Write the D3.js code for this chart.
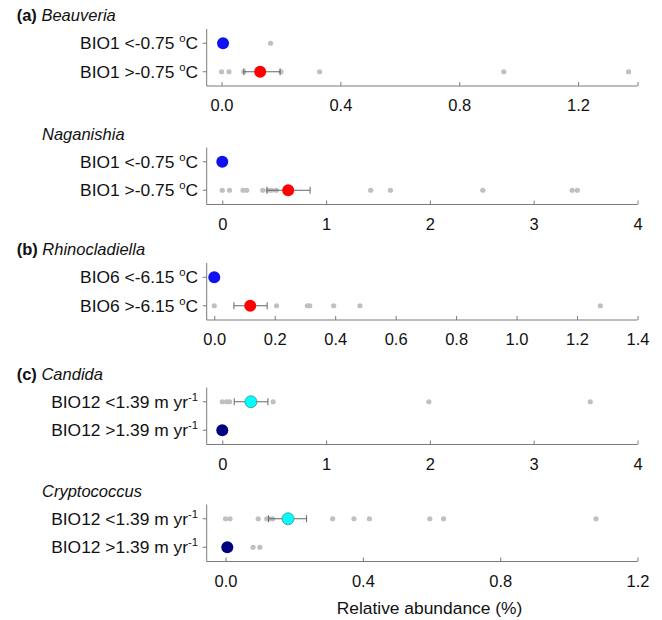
<!DOCTYPE html>
<html><head><meta charset="utf-8">
<script src="https://cdn.jsdelivr.net/npm/d3@7"></script>
<style>
html,body{margin:0;padding:0;background:#fff;}
svg text{font-family:"Liberation Sans",Arial,sans-serif;fill:#111;}
</style></head>
<body><svg id="chart" width="662" height="620"></svg>
<script>
// ---- data ----
const panelTags   = ["(a)", "", "(b)", "(c)", ""];
const panelGenera = ["Beauveria", "Naganishia", "Rhinocladiella", "Candida", "Cryptococcus"];
const rowLabelsMain = [
  ["BIO1 <-0.75 ", "BIO1 >-0.75 "],
  ["BIO1 <-0.75 ", "BIO1 >-0.75 "],
  ["BIO6 <-6.15 ", "BIO6 >-6.15 "],
  ["BIO12 <1.39 m yr", "BIO12 >1.39 m yr"],
  ["BIO12 <1.39 m yr", "BIO12 >1.39 m yr"]
];
const rowLabelsSup  = [["o","o"],["o","o"],["o","o"],["-1","-1"],["-1","-1"]];
const rowLabelsTail = [["C","C"],["C","C"],["C","C"],["",""],["",""]];
const xDomains = [[-0.05, 1.4], [-0.15, 4], [-0.025, 1.4], [-0.15, 4], [-0.055, 1.2]];
const xTicks = [
  [0, 0.4, 0.8, 1.2, 1.4],
  [0, 1, 2, 3, 4],
  [0, 0.2, 0.4, 0.6, 0.8, 1.0, 1.2, 1.4],
  [0, 1, 2, 3, 4],
  [0, 0.4, 0.8, 1.2]
];
const xTickLabels = [
  ["0.0", "0.4", "0.8", "1.2", ""],
  ["0", "1", "2", "3", "4"],
  ["0.0", "0.2", "0.4", "0.6", "0.8", "1.0", "1.2", "1.4"],
  ["0", "1", "2", "3", "4"],
  ["0.0", "0.4", "0.8", "1.2"]
];
// raw observations (grey dots), row 1 and row 2 of each panel
const rawRow1 = [
  [0, 0.165],
  [0],
  [0],
  [0, 0.04, 0.07, 0.49, 1.99, 3.545],
  [0, 0.013, 0.095, 0.12, 0.128, 0.137, 0.312, 0.374, 0.419, 0.595, 0.635, 1.079]
];
const rawRow2 = [
  [0, 0.025, 0.075, 0.2, 0.33, 0.95, 1.37],
  [0, 0.07, 0.2, 0.235, 0.39, 0.44, 0.475, 0.52, 1.43, 1.62, 2.51, 3.37, 3.42],
  [0, 0.206, 0.308, 0.316, 0.395, 0.482, 1.277],
  [0],
  [0.08, 0.1]
];
// group means and error bars (lower, upper)
const meanRow1 = [0.005, 0, 0, 0.276, 0.182];
const meanRow2 = [0.13, 0.635, 0.119, 0, 0.005];
const errRow1 = [null, null, null, [0.115, 0.44], [0.125, 0.236]];
const errRow2 = [[0.075, 0.197], [0.43, 0.846], [0.065, 0.175], null, null];
const colRow1 = ["#1010f5", "#1010f5", "#1010f5", "#00ffff", "#00ffff"];
const colRow2 = ["#ff0000", "#ff0000", "#ff0000", "#000080", "#000080"];
const xTitle = "Relative abundance (%)";

// ---- layout ----
const svg = d3.select("#chart");
const panelTops = [29, 147.5, 263, 387.5, 504.5];
const panelH = 57;
const x0 = 206.7, x1 = 637.5;
const FS = 16.5, FL = 17.4;

panelTops.forEach((top, i) => {
  const g = svg.append("g");
  const x = d3.scaleLinear().domain(xDomains[i]).range([x0, x1]);
  const y = d3.scalePoint().domain([0, 1]).range([top, top + panelH]).padding(0.5);
  const bottom = top + panelH;

  // title
  const t = g.append("text").attr("y", top - 8).attr("font-size", FS);
  if (panelTags[i]) {
    t.attr("x", 16.7);
    t.append("tspan").attr("font-weight", "bold").text(panelTags[i] + " ");
  } else {
    t.attr("x", 42);
  }
  t.append("tspan").attr("font-style", "italic").text(panelGenera[i]);

  // y axis line + ticks
  g.append("line").attr("x1", x0).attr("x2", x0).attr("y1", top).attr("y2", bottom)
    .attr("stroke", "#7a7a7a").attr("stroke-width", 1);
  [0, 1].forEach(r => {
    g.append("line").attr("x1", x0 - 4).attr("x2", x0).attr("y1", y(r)).attr("y2", y(r))
      .attr("stroke", "#7a7a7a");
    const lab = g.append("text").attr("x", 198).attr("y", y(r) + 6)
      .attr("text-anchor", "end").attr("font-size", FL);
    lab.append("tspan").text(rowLabelsMain[i][r]);
    lab.append("tspan").attr("font-size", FL * 0.65).attr("dy", -7).text(rowLabelsSup[i][r]);
    if (rowLabelsTail[i][r]) lab.append("tspan").attr("dy", 7).text(rowLabelsTail[i][r]);
  });

  // x axis
  const ax = d3.axisBottom(x).tickValues(xTicks[i]).tickSize(-4)
    .tickFormat((d, k) => xTickLabels[i][k]);
  const axG = g.append("g").attr("transform", `translate(0,${bottom})`).call(ax);
  axG.select(".domain").attr("stroke", "#7a7a7a").attr("d", `M${x0},0H${x1}`);
  axG.selectAll(".tick line").attr("stroke", "#7a7a7a");
  axG.selectAll(".tick text").attr("font-size", FS).attr("dy", 0).attr("y", 25)
    .attr("fill", "#111").attr("font-family", '"Liberation Sans",Arial,sans-serif');

  // raw grey dots
  [rawRow1[i], rawRow2[i]].forEach((arr, r) => {
    g.selectAll(null).data(arr).enter().append("circle")
      .attr("cx", d => x(d)).attr("cy", y(r)).attr("r", 2.6).attr("fill", "#c0c0c0");
  });
  // error bars
  [errRow1[i], errRow2[i]].forEach((e, r) => {
    if (!e) return;
    const cy = y(r);
    g.append("line").attr("x1", x(e[0])).attr("x2", x(e[1])).attr("y1", cy).attr("y2", cy)
      .attr("stroke", "#666").attr("stroke-width", 1);
    e.forEach(v => g.append("line").attr("x1", x(v)).attr("x2", x(v))
      .attr("y1", cy - 3.5).attr("y2", cy + 3.5).attr("stroke", "#666").attr("stroke-width", 1));
  });
  // means
  [[meanRow1[i], colRow1[i]], [meanRow2[i], colRow2[i]]].forEach(([m, c], r) => {
    g.append("circle").attr("cx", x(m)).attr("cy", y(r)).attr("r", 6)
      .attr("fill", c)
      .attr("stroke", c === "#00ffff" ? "#3f8f8f" : "none").attr("stroke-width", 0.8);
  });
});

svg.append("text").attr("x", 429.5).attr("y", 614).attr("text-anchor", "middle")
  .attr("font-size", FL).text(xTitle);
</script></body></html>
